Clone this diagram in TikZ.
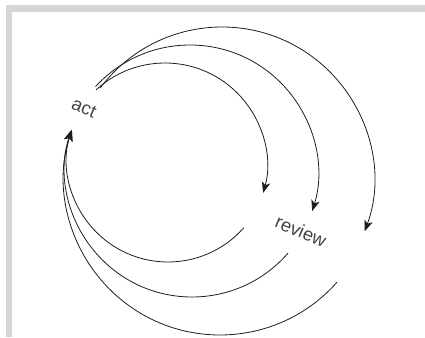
\documentclass[tikz,border=0pt]{standalone}
\usepackage{fontspec}
\setmainfont{Liberation Sans}
\usetikzlibrary{arrows.meta}
\definecolor{framegray}{HTML}{D6D6D6}
\definecolor{inkgray}{HTML}{1E1E1E}
\definecolor{txtgray}{HTML}{444444}
\begin{document}
\begin{tikzpicture}[x=1pt,y=1pt,
  loop/.style={draw=inkgray,line width=0.8pt,-{Stealth[length=11pt,width=8.5pt,inset=3pt]}},
  lbl/.style={text=txtgray,font=\fontsize{18.5}{18.5}\selectfont,rotate=-23,inner sep=0pt}]
\useasboundingbox (0,0) rectangle (425,337);
\fill[framegray] (6,0) rectangle (11.7,332);
\fill[framegray] (6,332) rectangle (425,325.3);
\node[lbl] (act) at (84,229) {act};
\node[lbl] (review) at (301,106) {review};
% upper arcs (act -> review)
\coordinate (u1) at ([shift={(132.6:102)}]165,172);
\coordinate (u2) at ([shift={(137.6:128)}]190,164);
\coordinate (u3) at ([shift={(143.3:152)}]222,158);
\draw[loop] (u1) arc[start angle=132.6,end angle=-15.9,radius=102];
\draw[loop] (u2) arc[start angle=137.6,end angle=-17.3,radius=128];
\draw[loop] (u3) arc[start angle=143.3,end angle=-20.1,radius=152];
% lower arcs (review -> act)
\coordinate (l1) at ([shift={(-41.3:101)}]168,176);
\coordinate (l2) at ([shift={(-40.8:127)}]192,167);
\coordinate (l3) at ([shift={(-41.4:156)}]220,158);
\draw[loop] (l1) arc[start angle=-41.3,end angle=-197.9,radius=101];
\draw[loop] (l2) arc[start angle=-40.8,end angle=-198.4,radius=127];
\draw[loop] (l3) arc[start angle=-41.4,end angle=-198.3,radius=156];
\end{tikzpicture}
\end{document}
